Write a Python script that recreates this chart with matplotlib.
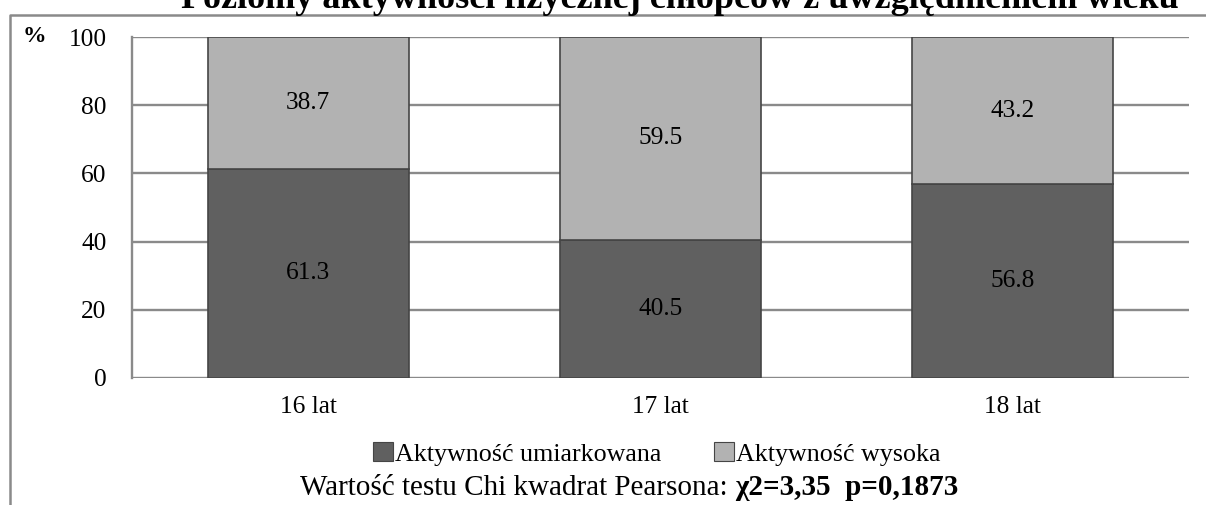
import matplotlib
matplotlib.use("Agg")
import matplotlib.pyplot as plt
from matplotlib.patches import Patch
from matplotlib.lines import Line2D

categories = ["16 lat", "17 lat", "18 lat"]
moderate = [61.3, 40.5, 56.8]
high = [38.7, 59.5, 43.2]
series_names = ["Aktywność umiarkowana", "Aktywność wysoka"]
yticks = [0, 20, 40, 60, 80, 100]
title = "Poziomy aktywności fizycznej chłopców z uwzględnieniem wieku"
test_label = "Wartość testu Chi kwadrat Pearsona:"
test_value = "χ2=3,35  p=0,1873"

plt.rcParams["font.family"] = ["Liberation Serif", "DejaVu Serif"]
FS = 18.3

W, H = 1206, 505
fig = plt.figure(figsize=(W / 100, H / 100), dpi=100)

def fx(px):
    return px / W

def fy(py):
    return 1 - py / H

dark = "#606060"
light = "#b2b2b2"
grid_c = "#8a8a8a"
edge_c = "#454545"

ax = fig.add_axes([fx(132), fy(378), fx(1189) - fx(132), fy(37) - fy(378)])
x = list(range(len(categories)))
w = 0.571
ax.bar(x, moderate, w, color=dark, edgecolor=edge_c, linewidth=1.2, zorder=3)
ax.bar(x, high, w, bottom=moderate, color=light, edgecolor=edge_c, linewidth=1.2, zorder=3)

for i in x:
    ax.text(i, moderate[i] / 2, f"{moderate[i]:.1f}", ha="center", va="center",
            fontsize=FS, color="black", zorder=4)
    ax.text(i, moderate[i] + high[i] / 2, f"{high[i]:.1f}", ha="center", va="center",
            fontsize=FS, color="black", zorder=4)

ax.set_xlim(-0.5, 2.5)
ax.set_ylim(0, 100)
ax.set_yticks(yticks)
ax.set_yticklabels([str(t) for t in yticks], fontsize=FS)
ax.set_xticks(x)
ax.set_xticklabels(categories, fontsize=FS)
ax.tick_params(axis="y", length=0, pad=18.2)
ax.tick_params(axis="x", length=0, pad=12.8)
ax.yaxis.grid(True, color=grid_c, linewidth=1.7, zorder=0)
ax.set_axisbelow(True)
for s in ["top", "right", "bottom"]:
    ax.spines[s].set_visible(False)
ax.spines["left"].set_color(grid_c)
ax.spines["left"].set_linewidth(1.7)

# "%" unit label
fig.text(fx(34), fy(36.7), "%", fontsize=17, fontweight="bold", ha="center", va="center")

# outer frame of the chart area
fig.add_artist(Line2D([fx(10), fx(10), fx(1206)], [0, fy(15), fy(15)],
                      transform=fig.transFigure, color="#8a8a8a", linewidth=1.8))

# title (partly above the top edge)
fig.text(fx(680), fy(8.5), title, fontsize=26, fontweight="bold", ha="center", va="baseline")

# legend
handles = [Patch(facecolor=dark, edgecolor=edge_c, linewidth=0.8),
           Patch(facecolor=light, edgecolor=edge_c, linewidth=0.8)]
fig.legend(handles, series_names, loc="center left", bbox_to_anchor=(fx(372.7), fy(454)),
           ncol=2, frameon=False, fontsize=18.7, handlelength=0.77, handleheight=0.7,
           handletextpad=0.1, columnspacing=2.0, borderpad=0, borderaxespad=0)

# chi-square test annotation: regular label followed by the bold result
renderer = fig.canvas.get_renderer()
t1 = fig.text(fx(300), fy(495), test_label + " ", fontsize=21, ha="left", va="baseline")
x_end = t1.get_window_extent(renderer).x1
fig.text(x_end / W, fy(495), test_value, fontsize=21, fontweight="bold",
         ha="left", va="baseline")

fig.savefig("out.png", dpi=100)
